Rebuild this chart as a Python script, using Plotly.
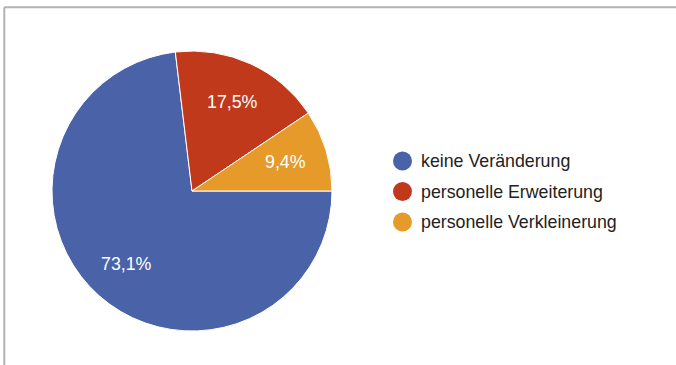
import math
import plotly.graph_objects as go

# Data
categories = ["keine Veränderung", "personelle Erweiterung", "personelle Verkleinerung"]
shares = [73.1, 17.5, 9.4]
colors = ["#4a62a8", "#c0391b", "#e59a29"]

W, H = 676, 365
cx, cy, R = 192, 191, 140          # pie centre and radius in pixels
start_deg = 90                      # first slice starts at 3 o'clock
FONT = "Liberation Sans, Arial, sans-serif"

fig = go.Figure()

fig.add_trace(go.Pie(
    labels=categories,
    values=shares,
    sort=False,
    direction="clockwise",
    rotation=start_deg,
    marker=dict(colors=colors, line=dict(color="white", width=1)),
    textinfo="none",
    hoverinfo="label+percent",
    showlegend=False,
    domain=dict(x=[(cx - R) / W, (cx + R) / W],
                y=[1 - (cy + R) / H, 1 - (cy - R) / H]),
))

# Hidden pixel-mapped axes for legend markers and labels
fig.update_layout(
    xaxis=dict(range=[0, W], visible=False, domain=[0, 1], fixedrange=True),
    yaxis=dict(range=[H, 0], visible=False, domain=[0, 1], fixedrange=True),
)

# Legend markers
leg_x, leg_y0, leg_dy = 402.5, 161, 30.5
leg_ys = [leg_y0 + i * leg_dy for i in range(len(categories))]
fig.add_trace(go.Scatter(
    x=[leg_x] * len(categories), y=leg_ys, mode="markers",
    marker=dict(size=19, color=colors, line=dict(width=0)),
    hoverinfo="skip", showlegend=False,
))

annotations = []
for name, y in zip(categories, leg_ys):
    annotations.append(dict(
        x=leg_x + 16.5, y=y, xref="x", yref="y", text=name, showarrow=False,
        xanchor="left", yanchor="middle",
        font=dict(family=FONT, size=17.8, color="#222222"),
    ))

# Slice labels at the mid-angle of each slice
total = sum(shares)
acc = 0.0
for v in shares:
    mid = math.radians(start_deg - 90 + (acc + v / 2) / total * 360)
    acc += v
    r = 0.70 * R
    x = cx + r * math.cos(mid)
    y = cy + r * math.sin(mid)
    label = f"{v / total * 100:.1f}%".replace(".", ",")
    annotations.append(dict(
        x=x, y=y, xref="x", yref="y", text=label, showarrow=False,
        xanchor="center", yanchor="middle",
        font=dict(family=FONT, size=17.8, color="white"),
    ))

fig.update_layout(
    width=W, height=H,
    margin=dict(l=0, r=0, t=0, b=0),
    paper_bgcolor="white", plot_bgcolor="rgba(0,0,0,0)",
    showlegend=False,
    annotations=annotations,
    shapes=[
        dict(type="line", xref="paper", yref="paper", x0=4.3 / W, x1=1,
             y0=1 - 7.3 / H, y1=1 - 7.3 / H, line=dict(color="#b3b3b3", width=2)),
        dict(type="line", xref="paper", yref="paper", x0=4.3 / W, x1=4.3 / W,
             y0=0, y1=1 - 7.3 / H, line=dict(color="#b3b3b3", width=2)),
    ],
)

fig.write_html("out.html")
